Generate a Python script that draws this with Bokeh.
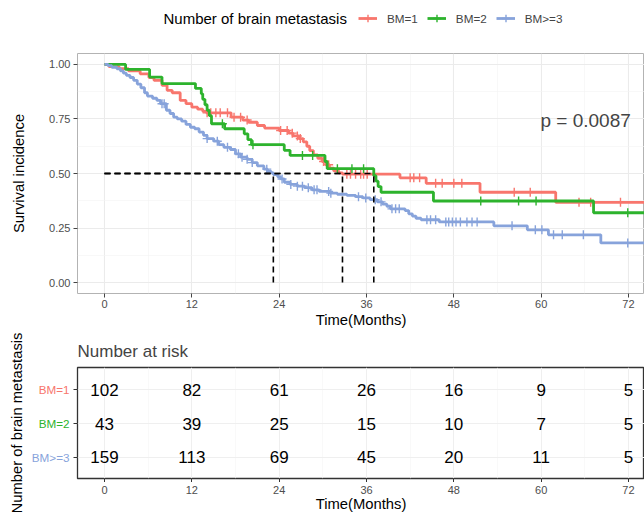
import numpy as np
from bokeh.plotting import figure
from bokeh.models import (Range1d, FixedTicker, Label, Legend, LegendItem,
                          ColumnDataSource, PrintfTickFormatter)
from bokeh.layouts import column, row
from bokeh.embed import file_html
from bokeh.resources import INLINE
from bokeh.core.properties import value

FONT = "Liberation Sans"

# ---------------- data ----------------
groups = ["BM=1", "BM=2", "BM>=3"]
colors = ["#F8766D", "#2DB32D", "#87A3DB"]
legend_title = "Number of brain metastasis"
p_value_text = "p = 0.0087"
x_title = "Time(Months)"
last_follow_up = 78.0

# BM=1 (Kaplan-Meier steps: time of drop, survival after drop)
bm1_times = [0.6, 2.0, 3.3, 4.9, 6.1, 6.8, 7.9, 8.6, 9.3, 10.4, 11.2, 12.0, 12.8, 13.5, 14.0,
             17.4, 19.0, 19.8, 21.0, 22.0, 24.0, 25.3, 25.9, 26.7, 27.3, 27.8, 28.2, 28.7,
             29.3, 29.9, 30.4, 30.9, 31.5, 32.2, 32.7, 40.6, 44.2, 51.6, 62.0]
bm1_surv = [0.99, 0.98, 0.97, 0.957, 0.94, 0.927, 0.904, 0.881, 0.87, 0.835, 0.82, 0.804, 0.795,
            0.785, 0.778, 0.758, 0.745, 0.735, 0.72, 0.708, 0.697, 0.685, 0.672, 0.66, 0.645,
            0.625, 0.605, 0.585, 0.57, 0.555, 0.54, 0.525, 0.512, 0.503, 0.497, 0.48, 0.455,
            0.414, 0.368]
bm1_censor = [14.1, 14.6, 15.3, 15.9, 16.9, 17.8, 18.7, 19.6, 24.2, 25.1, 25.8, 26.5, 26.9,
              30.1, 30.8, 33.3, 33.8, 34.5, 35.2, 35.6, 36.1, 37.0, 42.0, 42.5, 43.3, 45.5,
              46.4, 48.0, 49.1, 56.3, 58.5, 65.2, 66.8, 70.9]

# BM=2
bm2_times = [2.9, 6.2, 7.9, 12.5, 13.3, 13.5, 13.8, 14.1, 14.4, 14.7, 16.5, 19.2, 19.7, 20.2,
             24.7, 25.5, 30.3, 30.6, 37.0, 37.3, 37.6, 38.0, 45.2, 67.2]
bm2_surv = [0.977, 0.942, 0.912, 0.89, 0.865, 0.84, 0.815, 0.79, 0.765, 0.728, 0.705, 0.682,
            0.655, 0.632, 0.606, 0.583, 0.555, 0.522, 0.49, 0.465, 0.44, 0.414, 0.374, 0.32]
bm2_censor = [16.2, 20.4, 27.2, 28.6, 32.0, 34.0, 35.6, 51.7, 56.9, 59.3, 71.9]

# BM>=3
bm3_times = [0.5, 1.0, 1.7, 2.2, 2.6, 3.0, 3.5, 4.0, 4.5, 5.0, 5.5, 5.9, 6.6, 7.2, 7.7, 8.5,
             9.0, 9.5, 10.0, 10.6, 11.2, 11.8, 12.4, 13.0, 13.6, 14.1, 15.0, 15.7, 16.4, 17.3,
             18.0, 18.7, 19.6, 20.3, 21.0, 21.9, 22.4, 22.9, 23.2, 23.8, 24.2, 24.7, 25.5,
             26.5, 27.5, 28.5, 29.5, 31.0, 32.0, 33.3, 34.5, 35.5, 36.5, 37.5, 38.2, 38.8,
             39.3, 41.3, 41.8, 42.3, 42.8, 43.5, 46.0, 53.5, 58.1, 61.0, 68.2]
bm3_surv = [0.994, 0.987, 0.98, 0.97, 0.96, 0.95, 0.94, 0.927, 0.91, 0.893, 0.87, 0.855, 0.845,
            0.835, 0.82, 0.79, 0.775, 0.758, 0.75, 0.74, 0.725, 0.712, 0.705, 0.69, 0.675,
            0.66, 0.648, 0.632, 0.62, 0.61, 0.59, 0.575, 0.565, 0.55, 0.535, 0.52, 0.51,
            0.503, 0.495, 0.485, 0.475, 0.46, 0.45, 0.442, 0.435, 0.425, 0.418, 0.41, 0.405,
            0.40, 0.394, 0.388, 0.38, 0.37, 0.36, 0.35, 0.338, 0.33, 0.315, 0.305, 0.295,
            0.288, 0.278, 0.26, 0.242, 0.219, 0.182]
bm3_censor = [7.9, 8.2, 14.1, 15.5, 16.9, 18.4, 18.9, 19.6, 20.3, 22.3, 24.4, 25.6, 26.5, 27.2,
              28.0, 28.8, 29.2, 30.8, 31.1, 34.9, 35.9, 37.2, 38.0, 39.5, 40.0, 40.5, 44.3,
              44.8, 45.5, 46.9, 47.3, 47.8, 48.3, 48.9, 49.8, 50.5, 51.2, 56.0, 59.2, 60.1,
              61.7, 62.9, 65.8, 71.9]

# number at risk
risk_times = [0, 12, 24, 36, 48, 60, 72]
risk_bm1 = [102, 82, 61, 26, 16, 9, 5]
risk_bm2 = [43, 39, 25, 15, 10, 7, 5]
risk_bm3 = [159, 113, 69, 45, 20, 11, 5]

x_ticks = [0, 12, 24, 36, 48, 60, 72]
x_minor = [6, 18, 30, 42, 54, 66]
y_ticks = [0, 0.25, 0.5, 0.75, 1.0]
y_minor = [0.125, 0.375, 0.625, 0.875]

curves = [(bm1_times, bm1_surv, bm1_censor),
          (bm2_times, bm2_surv, bm2_censor),
          (bm3_times, bm3_surv, bm3_censor)]
risks = [risk_bm1, risk_bm2, risk_bm3]
rows = [3, 2, 1]

# ---------------- layout constants (pixels) ----------------
W = 644
HEAD_H = 50
MAIN_H = 280
TAB_H = 182
LEFT = 77
TAB_TOP, TAB_BOTTOM = 37, 34
TICK_OUT = 4
FOOT_H = TAB_BOTTOM - TICK_OUT
LAB_W = 73
LAB_AXIS = 24
TAB_Y = (0.38, 3.65)


def style_axis(ax, tick_color):
    ax.axis_line_color = None
    ax.major_tick_line_color = tick_color
    ax.major_tick_out = TICK_OUT
    ax.major_tick_in = 0
    ax.minor_tick_line_color = None
    ax.major_label_text_font = FONT
    ax.major_label_text_font_size = "11px"
    ax.major_label_text_color = "#4D4D4D"
    ax.axis_label_text_font = FONT
    ax.axis_label_text_font_size = "14.8px"
    ax.axis_label_text_font_style = "normal"
    ax.axis_label_text_color = "black"


# ---------------- header (legend) ----------------
# its frame is aligned with the main plot frame by the column layout
head = figure(width=W, height=HEAD_H, x_range=Range1d(LEFT, W), y_range=Range1d(0, HEAD_H),
              x_axis_type=None, y_axis_type=None, output_backend="svg",
              toolbar_location=None, min_border=0)
head.outline_line_color = None
head.grid.visible = False
head_items = []
for col, name in zip(colors, groups):
    # placeholder renderers (kept outside the visible range) that carry the legend styling
    hl = head.line(x=[0, 1], y=[-10, -10], line_color=col, line_width=2.8)
    hc = head.scatter(x=[0], y=[-10], marker="cross", size=9, line_color=col, line_width=1.4)
    head_items.append(LegendItem(label=name, renderers=[hl, hc]))
head.add_layout(Legend(items=head_items, orientation="horizontal",
                       location=(358 - LEFT, 22),
                       label_text_font=FONT, label_text_font_size="11.7px",
                       glyph_width=19, glyph_height=20, label_height=20, label_standoff=10,
                       spacing=9, padding=0, margin=0, border_line_color=None,
                       background_fill_alpha=0))
head.text(x=[163], y=[HEAD_H - 18], text=[legend_title], text_font=value(FONT),
          text_font_size="15px", text_align="left", text_baseline="middle",
          text_color="black")

# ---------------- main plot ----------------
X_RANGE = Range1d(-3.71, 74.2)
p = figure(width=W, height=MAIN_H, x_range=X_RANGE, y_range=Range1d(-0.05, 1.05),
           output_backend="svg", toolbar_location=None,
           min_border_left=LEFT, min_border_right=0, min_border_top=3, min_border_bottom=37)
p.outline_line_color = "#B3B3B3"
p.outline_line_width = 1

xt = FixedTicker(ticks=x_ticks, minor_ticks=x_minor)
yt = FixedTicker(ticks=y_ticks, minor_ticks=y_minor)
p.xaxis.ticker = xt
p.xgrid.ticker = xt
p.yaxis.ticker = yt
p.ygrid.ticker = yt
p.yaxis.formatter = PrintfTickFormatter(format="%.2f")

for g in (p.xgrid[0], p.ygrid[0]):
    g.grid_line_color = "#EBEBEB"
    g.grid_line_width = 1.1
    g.minor_grid_line_color = "#F3F3F3"
    g.minor_grid_line_width = 0.6

p.xaxis.axis_label = x_title
p.yaxis.axis_label = "Survival incidence"
style_axis(p.xaxis[0], "#444444")
style_axis(p.yaxis[0], "#444444")
p.xaxis.major_label_standoff = 2
p.xaxis.axis_label_standoff = 1
p.yaxis.major_label_standoff = 3
p.yaxis.axis_label_standoff = 19

medians = []
for (times, surv, cens), col in zip(curves, colors):
    sx = [0.0] + list(times) + [last_follow_up]
    sy = [1.0] + list(surv) + [surv[-1]]
    p.step(x=sx, y=sy, mode="after", line_color=col, line_width=2.8)
    t_arr = np.array(times)
    s_arr = np.array(surv)
    idx = np.searchsorted(t_arr, np.array(cens), side="right")
    cy = np.where(idx > 0, s_arr[np.maximum(idx - 1, 0)], 1.0)
    p.scatter(x=cens, y=cy, marker="cross", size=9, line_color=col, line_width=1.4)
    below = np.nonzero(s_arr <= 0.5)[0]
    if len(below):
        medians.append(float(t_arr[below[0]]))

# median lines
p.segment(x0=[0.0] * len(medians), y0=[0.5] * len(medians), x1=medians,
          y1=[0.5] * len(medians), line_color="black", line_width=1.6, line_dash="6 4")
p.segment(x0=medians, y0=[0.0] * len(medians), x1=medians, y1=[0.5] * len(medians),
          line_color="black", line_width=1.6, line_dash="6 4")

p.add_layout(Label(x=59.9, y=0.743, text=p_value_text, text_font=FONT,
                   text_font_size="19px", text_baseline="middle", text_align="left"))

# ---------------- risk table ----------------
t = figure(width=W - LAB_W, height=TAB_H - FOOT_H, x_range=X_RANGE, y_range=Range1d(*TAB_Y),
           output_backend="svg", toolbar_location=None,
           min_border_left=LEFT - LAB_W, min_border_right=0,
           min_border_top=TAB_TOP, min_border_bottom=TICK_OUT)
t.outline_line_color = "#333333"
t.outline_line_width = 1.3
t.title.text = "Number at risk"
t.title.text_font = FONT
t.title.text_font_size = "17px"
t.title.text_font_style = "normal"
t.title.align = "left"
t.title.standoff = 13

xt2 = FixedTicker(ticks=x_ticks, minor_ticks=x_minor)
t.xaxis.ticker = xt2
t.xgrid.ticker = xt2
yt2 = FixedTicker(ticks=rows)
t.yaxis.ticker = yt2
t.ygrid.ticker = yt2
for g in (t.xgrid[0], t.ygrid[0]):
    g.grid_line_color = "#EFEFEF"
    g.grid_line_width = 1.0
t.xgrid.minor_grid_line_color = "#F5F5F5"
t.xgrid.minor_grid_line_width = 0.6

style_axis(t.xaxis[0], "#333333")
style_axis(t.yaxis[0], "#333333")
t.yaxis.major_label_text_color = None
t.yaxis.major_label_standoff = 0
t.xaxis.major_label_text_color = None
t.xaxis.major_label_standoff = 0

for rw, risk in zip(rows, risks):
    src = ColumnDataSource(dict(x=risk_times, y=[rw] * len(risk_times),
                                txt=[str(v) for v in risk]))
    t.text(x="x", y="y", text="txt", source=src, text_font=value(FONT),
           text_font_size="17px", text_align="center", text_baseline="middle",
           text_color="black")

# strip under the table: time tick labels and the x-axis title
foot = figure(width=W - LAB_W, height=FOOT_H, x_range=X_RANGE, y_range=Range1d(0, FOOT_H),
              x_axis_type=None, y_axis_type=None, output_backend="svg",
              toolbar_location=None, min_border_left=LEFT - LAB_W, min_border_right=0,
              min_border_top=0, min_border_bottom=0)
foot.outline_line_color = None
foot.grid.visible = False
foot.text(x=x_ticks, y=[FOOT_H - 7] * len(x_ticks), text=[str(v) for v in x_ticks],
          text_font=value(FONT), text_font_size="11px", text_align="center",
          text_baseline="middle", text_color="#4D4D4D")
foot.text(x=[(X_RANGE.start + X_RANGE.end) / 2], y=[FOOT_H - 21], text=[x_title],
          text_font=value(FONT), text_font_size="14.8px", text_align="center",
          text_baseline="middle", text_color="black")

# label strip to the left of the table: row names in group colours + axis title
lab = figure(width=LAB_W, height=TAB_H, x_range=Range1d(LAB_AXIS, LAB_W),
             y_range=Range1d(*TAB_Y), x_axis_type=None, output_backend="svg",
             toolbar_location=None, min_border_left=LAB_AXIS, min_border_right=0,
             min_border_top=TAB_TOP, min_border_bottom=TAB_BOTTOM)
lab.outline_line_color = None
lab.grid.visible = False
lab.yaxis.ticker = FixedTicker(ticks=[])
lab.yaxis.axis_line_color = None
lab.yaxis.major_tick_line_color = None
lab.yaxis.minor_tick_line_color = None
lab.yaxis.major_label_text_color = None
lab.yaxis.major_tick_out = 0
lab.yaxis.major_label_standoff = 0
lab.yaxis.axis_label = legend_title
lab.yaxis.axis_label_standoff = 0
lab.yaxis.axis_label_text_font = FONT
lab.yaxis.axis_label_text_font_size = "14.8px"
lab.yaxis.axis_label_text_font_style = "normal"
lab.yaxis.axis_label_text_color = "black"
lab.text(x=[69] * len(rows), y=rows, text=groups, text_color=colors,
         text_font=value(FONT), text_font_size="11.7px", text_align="right",
         text_baseline="middle")

layout = column(head, p, row(lab, column(t, foot, spacing=0), spacing=0), spacing=0)
open("out.html", "w").write(file_html(layout, INLINE))
